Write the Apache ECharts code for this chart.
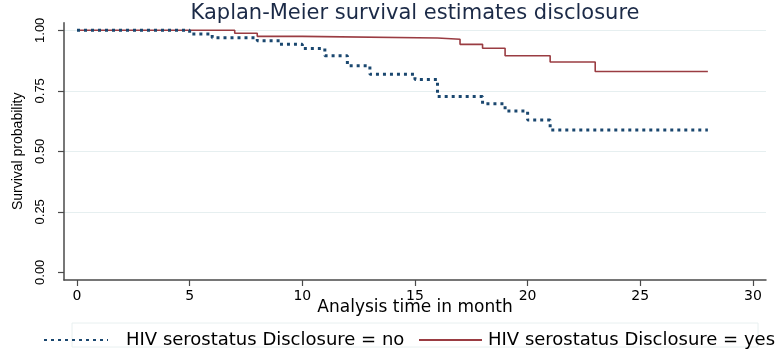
<!DOCTYPE html>
<html>
<head>
<meta charset="utf-8">
<script src="https://cdn.jsdelivr.net/npm/echarts@6/dist/echarts.min.js"></script>
<style>html,body{margin:0;padding:0;background:#fff;}#c{width:781px;height:361px;}</style>
</head>
<body>
<div id="c"></div>
<script>
// Kaplan-Meier step points (time in months, survival probability)
const noTime  = [0, 5, 6, 8, 9, 10, 11, 12, 13, 15, 16, 18, 19, 20, 21, 28];
const noSurv  = [1, 0.985, 0.969, 0.957, 0.942, 0.925, 0.895, 0.854, 0.818, 0.797, 0.726, 0.696, 0.667, 0.629, 0.588, 0.588];
const yesTime = [0, 7, 8, 10, 16, 17, 18, 19, 21, 23, 28];
const yesSurv = [1, 0.988, 0.975, 0.968, 0.963, 0.942, 0.926, 0.895, 0.869, 0.830, 0.830];
const seriesNames = ['HIV serostatus Disclosure = no', 'HIV serostatus Disclosure = yes'];
const xTicks = [0, 5, 10, 15, 20, 25, 30];
const yTicks = [0, 0.25, 0.5, 0.75, 1];
const yTickLabels = ['0.00', '0.25', '0.50', '0.75', '1.00'];
const titleText = 'Kaplan-Meier survival estimates disclosure';
const xName = 'Analysis time in month';
const yName = 'Survival probability';

const pairs = (xs, ys) => xs.map((x, i) => [x, ys[i]]);
const axisCol = '#4a4a4a';
const hideSymbol = {color: 'rgba(0,0,0,0)', borderColor: 'rgba(0,0,0,0)', borderWidth: 0, opacity: 0};
const chart = echarts.init(document.getElementById('c'), null, {renderer: 'canvas'});
chart.setOption({
  animation: false,
  backgroundColor: '#ffffff',
  title: {
    text: titleText, left: 415, top: 3, padding: 0, textAlign: 'center',
    textStyle: {fontFamily: 'DejaVu Sans', fontSize: 21, fontWeight: 'normal', color: '#1b2a47'}
  },
  grid: {left: 64, right: 15, top: 22.7, bottom: 81, containLabel: false},
  xAxis: {
    type: 'value', min: -0.577, max: 30.58,
    name: xName, nameLocation: 'middle', nameGap: 19, nameMoveOverlap: false,
    nameTextStyle: {fontFamily: 'DejaVu Sans', fontSize: 17, color: '#000'},
    axisLine: {show: true, onZero: false, lineStyle: {color: axisCol, width: 1.5}},
    axisTick: {show: true, length: 6, customValues: xTicks, lineStyle: {color: axisCol, width: 1.2}},
    axisLabel: {customValues: xTicks, margin: 9, fontFamily: 'DejaVu Sans', fontSize: 14, color: '#000'},
    splitLine: {show: false}
  },
  yAxis: {
    type: 'value', min: -0.0318, max: 1.0314,
    name: yName, nameLocation: 'middle', nameGap: 39, nameRotate: 90, nameMoveOverlap: false,
    nameTextStyle: {fontFamily: 'Liberation Sans', fontSize: 14, color: '#000'},
    axisLine: {show: true, onZero: false, lineStyle: {color: axisCol, width: 1.5}},
    axisTick: {show: true, length: 6, customValues: yTicks, lineStyle: {color: axisCol, width: 1.2}},
    axisLabel: {customValues: yTicks, rotate: 90, margin: 17, fontFamily: 'Liberation Sans', fontSize: 13, color: '#000',
      formatter: v => { const i = yTicks.indexOf(v); return i >= 0 ? yTickLabels[i] : ''; }},
    splitLine: {show: true, lineStyle: {color: ['rgba(0,0,0,0)', '#e6eff0', '#e6eff0', '#e6eff0', '#e6eff0'], width: 1.2}}
  },
  legend: [
    {
      data: [seriesNames[0]], left: 43, top: 331, padding: 0,
      itemWidth: 64, itemHeight: 12, itemGap: 0, itemStyle: hideSymbol,
      textStyle: {fontFamily: 'DejaVu Sans', fontSize: 18, color: '#000', padding: [0, 0, 0, 13]}
    },
    {
      data: [seriesNames[1]], left: 418, top: 331, padding: 0,
      itemWidth: 63, itemHeight: 12, itemGap: 0, itemStyle: hideSymbol,
      textStyle: {fontFamily: 'DejaVu Sans', fontSize: 18, color: '#000', padding: [0, 0, 0, 1]}
    }
  ],
  graphic: [{
    type: 'rect', shape: {x: 72, y: 323, width: 686, height: 24}, z: -1,
    style: {fill: 'none', stroke: '#e8f0f0', lineWidth: 1}
  }],
  series: [
    {
      name: seriesNames[0], type: 'line', step: 'end', data: pairs(noTime, noSurv),
      showSymbol: false, symbol: 'none', z: 3,
      lineStyle: {color: '#1a476f', width: 3, type: [3, 4], cap: 'butt'},
      itemStyle: {color: '#1a476f'}
    },
    {
      name: seriesNames[1], type: 'line', step: 'end', data: pairs(yesTime, yesSurv),
      showSymbol: false, symbol: 'none', z: 2,
      lineStyle: {color: '#9a3c42', width: 1.6},
      itemStyle: {color: '#9a3c42'}
    }
  ]
});
</script>
</body>
</html>
